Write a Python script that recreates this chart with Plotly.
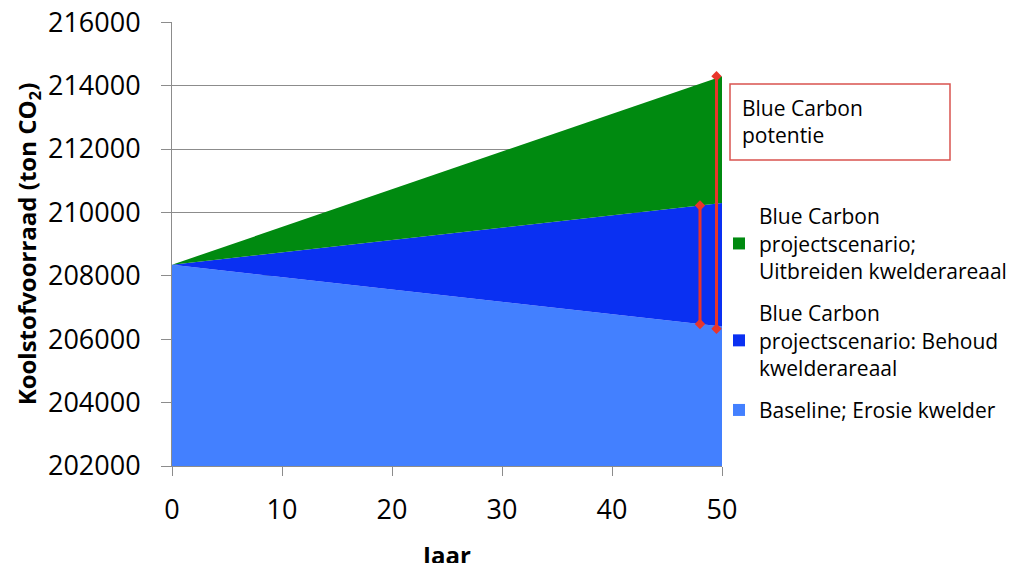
import plotly.graph_objects as go

# ---- data ----
years = [0, 50]
baseline = [208350, 206400]          # Baseline; Erosie kwelder
behoud = [208350, 210300]            # projectscenario: Behoud kwelderareaal
uitbreiden = [208350, 214300]        # projectscenario; Uitbreiden kwelderareaal

arrow_x = [48, 49.5]
arrow_low = [206480, 206330]
arrow_high = [210220, 214300]

y_ticks = [202000, 204000, 206000, 208000, 210000, 212000, 214000, 216000]
x_ticks = [0, 10, 20, 30, 40, 50]

names = [
    "Blue Carbon<br>projectscenario;<br>Uitbreiden kwelderareaal",
    "Blue Carbon<br>projectscenario: Behoud<br>kwelderareaal",
    "Baseline; Erosie kwelder",
]
colors = ["#008A10", "#0A30F2", "#4380FF"]

FONT = "Open Sans"

fig = go.Figure()

# stacked-looking areas (absolute values)
fig.add_trace(go.Scatter(x=years, y=baseline, mode="lines", line=dict(width=0, color=colors[2]),
                         fill="tozeroy", fillcolor=colors[2], showlegend=False, hoverinfo="skip"))
fig.add_trace(go.Scatter(x=years, y=behoud, mode="lines", line=dict(width=0, color=colors[1]),
                         fill="tonexty", fillcolor=colors[1], showlegend=False, hoverinfo="skip"))
fig.add_trace(go.Scatter(x=years, y=uitbreiden, mode="lines", line=dict(width=0, color=colors[0]),
                         fill="tonexty", fillcolor=colors[0], showlegend=False, hoverinfo="skip"))

# red arrows
for xa, lo, hi in zip(arrow_x, arrow_low, arrow_high):
    fig.add_trace(go.Scatter(x=[xa, xa], y=[lo, hi], mode="lines+markers",
                             line=dict(color="#E8352B", width=3),
                             marker=dict(symbol="diamond", size=8, color="#E8352B"),
                             showlegend=False, hoverinfo="skip"))

# legend entries
for i, (nm, c) in enumerate(zip(names, colors)):
    fig.add_trace(go.Scatter(x=[None], y=[None], mode="markers", name=nm,
                             marker=dict(symbol="square", size=16, color=c),
                             legendgroup=f"g{i}", showlegend=True))

# red bordered box
fig.add_shape(type="rect", xref="paper", yref="paper",
              x0=(730 - 172) / 550, x1=(950 - 172) / 550,
              y0=(466 - 160) / 444, y1=(466 - 84) / 444,
              line=dict(color="#D9534F", width=1.5), fillcolor="white", layer="above")
fig.add_annotation(xref="paper", yref="paper", x=(740 - 172) / 550, y=(466 - 92) / 444,
                   xanchor="left", yanchor="top", align="left", showarrow=False,
                   text="Blue Carbon<br>potentie",
                   font=dict(family=FONT, size=21, color="black"))

# page body has an 8px offset, so the plot area is placed 8px up/left in figure coords
fig.update_layout(
    width=1016, height=563,
    margin=dict(l=164, r=302, t=14, b=105, autoexpand=False),
    paper_bgcolor="white", plot_bgcolor="white",
    font=dict(family=FONT, color="black"),
    showlegend=True,
    legend=dict(x=(719 - 172) / 550, y=(466 - 196) / 444, xanchor="left", yanchor="top",
                font=dict(family=FONT, size=21, color="black"),
                tracegroupgap=12, itemsizing="constant", bgcolor="rgba(0,0,0,0)"),
    xaxis=dict(range=[0, 50], tickvals=x_ticks, ticktext=[str(v) for v in x_ticks],
               showgrid=False, zeroline=False, showline=True, linecolor="#8C8C8C", linewidth=1,
               ticks="outside", ticklen=9, tickcolor="#8C8C8C", automargin=False,
               ticklabelstandoff=11,
               tickfont=dict(family=FONT, size=27, color="black"),
               title=dict(text="<b>Jaar</b>", font=dict(family=FONT, size=24, color="black"), standoff=22)),
    yaxis=dict(range=[202000, 216008], tickvals=y_ticks, ticktext=[str(v) for v in y_ticks],
               showgrid=True, gridcolor="#8C8C8C", gridwidth=1, zeroline=False,
               showline=True, linecolor="#8C8C8C", linewidth=1, automargin=False,
               ticks="outside", ticklen=10, tickcolor="#8C8C8C", ticklabelstandoff=15,
               ticklabeloverflow="allow",
               tickfont=dict(family=FONT, size=27, color="black"),
               title=dict(text="<b>Koolstofvoorraad (ton CO<sub>2</sub>)</b>",
                          font=dict(family=FONT, size=24, color="black"), standoff=4)),
)

fig.write_html("out.html")
